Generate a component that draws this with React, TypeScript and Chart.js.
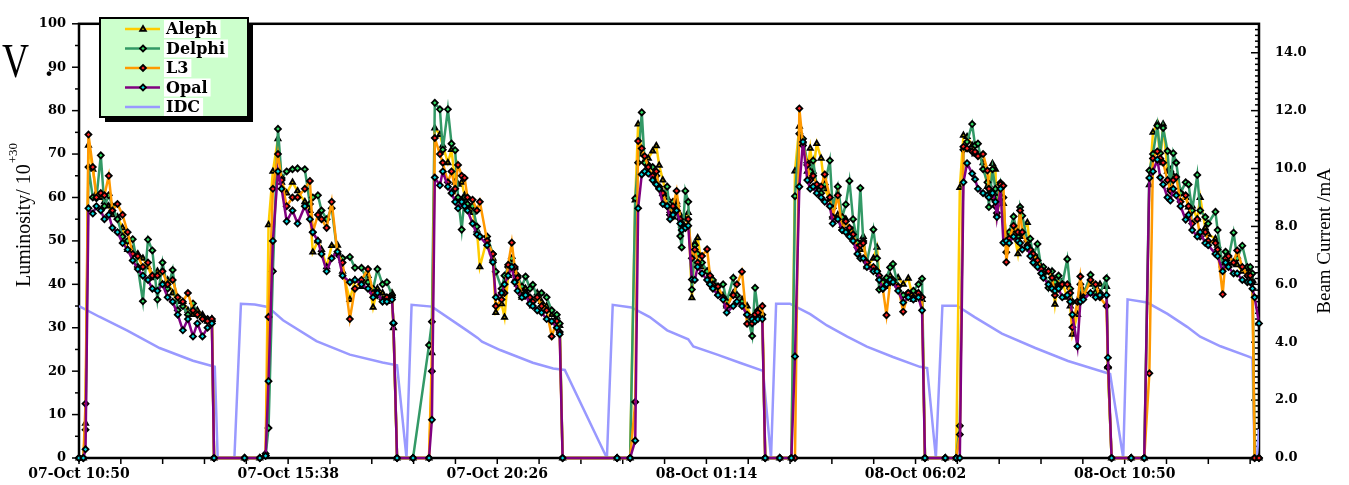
import React, { useEffect, useRef } from 'react';
import { Chart, registerables } from 'chart.js';

Chart.register(...registerables);

// x values are minutes after 07-Oct 10:50
const xTickMinutes = [0, 288, 576, 864, 1152, 1440];
const xTickLabels = ['07-Oct 10:50', '07-Oct 15:38', '07-Oct 20:26', '08-Oct 01:14', '08-Oct 06:02', '08-Oct 10:50'];
const xMax = 1625;
const xMinorStep = 57.6;
const yTickValues = [0, 10, 20, 30, 40, 50, 60, 70, 80, 90, 100];
const y1TickValues = [0, 2, 4, 6, 8, 10, 12, 14];

const seriesLabels = ['Aleph', 'Delphi', 'L3', 'Opal', 'IDC'];
const seriesColors = ['#ffcc00', '#339966', '#ff9900', '#800080', '#9999ff'];
const markerFills = ['#9a8800', '#33dd66', '#ff2222', '#00d8e0', ''];
const markerStyles = ['triangle', 'rectRot', 'rectRot', 'rectRot', ''];

const lumiTimes = [
  0, 6, 9, 13, 19, 24, 30, 35, 41, 46, 53, 60, 67, 74, 81, 88, 95, 101, 108, 115, 122, 129, 136, 143, 150, 157, 163, 170, 177, 183, 186,
  228, 249, 257, 261, 267, 274, 279, 286, 294, 301, 311, 318, 322, 329, 334, 341, 348, 356, 363, 373, 380, 389, 398, 405, 411, 418, 424, 431, 433, 438,
  460, 482, 486, 490, 497, 501, 508, 513, 518, 522, 527, 531, 535, 542, 548, 552, 562, 570, 574, 582, 586, 591, 596, 600, 604, 610, 615, 621, 625, 631, 637, 644, 651, 658, 662, 666,
  741, 759, 766, 770, 775, 779, 784, 790, 795, 799, 804, 810, 814, 818, 823, 828, 830, 835, 839, 844, 848, 852, 858, 865, 869, 873, 880, 887, 892, 901, 906, 913, 920, 927, 931, 935, 941, 945,
  965, 981, 986, 992, 997, 1003, 1007, 1011, 1016, 1022, 1027, 1034, 1038, 1045, 1051, 1056, 1061, 1066, 1072, 1076, 1080, 1085, 1094, 1099, 1102, 1107, 1112, 1117, 1121, 1128, 1135, 1142, 1149, 1156, 1161, 1165,
  1193, 1208, 1213, 1218, 1223, 1230, 1234, 1238, 1245, 1251, 1253, 1258, 1262, 1264, 1269, 1273, 1277, 1281, 1287, 1293, 1296, 1299, 1306, 1310, 1314, 1320, 1325, 1328, 1335, 1340, 1344, 1349, 1354, 1361, 1365, 1368, 1375, 1379, 1383, 1393, 1400, 1406, 1415, 1417, 1422,
  1449, 1467, 1474, 1479, 1485, 1489, 1493, 1499, 1503, 1507, 1511, 1517, 1524, 1528, 1533, 1540, 1544, 1551, 1555, 1565, 1568, 1575, 1579, 1583, 1590, 1595, 1602, 1609, 1613, 1616, 1619, 1625,
];

const alephLumi = [
  0, 0, 8, 72, 66.5, 61, 60, 59, 58, 56, 55.5, 53, 48, 48, 47, 46, 44, 41.5, 43, 40, 41, 38, 36, 36, 34, 33, 34, 33, 31.5, 32, 0,
  0, 0, 1, 53.7, 66, 73.5, 63.5, 61, 63.5, 61.5, 59, 57, 47.4, 50, 48, 44, 48.9, 49, 43, 36.5, 41, 39.5, 42, 34.7, 39, 38, 36, 38, 30, 0,
  0, 0, 24.2, 76, 74.5, 72, 68, 71, 63.5, 63, 63.5, 60.5, 58, 56.5, 52.5, 44, 50.5, 46, 33.5, 35.5, 32.4, 42, 45, 41, 40, 37, 39, 36, 35, 38, 36, 35, 33, 32.5, 30.5, 0,
  0, 0, 59.4, 76.9, 70, 68.5, 69, 70.7, 71.9, 67.4, 64, 60, 57, 55.5, 59, 56, 53.5, 55, 56.5, 36.9, 49.5, 50.7, 44, 43, 41.5, 41, 38, 37.5, 35, 38, 37.5, 36.5, 35, 31.5, 33, 33.5, 32.5, 0,
  0, 0, 66.1, 76.4, 73, 66, 71.3, 66, 72.4, 69, 62, 59.5, 55.5, 56, 53.5, 55, 52, 52.5, 50, 48, 51, 44, 46, 48.5, 41.5, 40.5, 39.5, 42, 40.5, 41.5, 40, 41.4, 36.5, 38, 36.5, 0,
  0, 0, 62.3, 74.3, 74, 72, 70, 70, 68, 62.5, 63, 67.8, 66.5, 56, 60, 58.6, 50, 51.5, 52.5, 47, 51, 52, 54.2, 48, 47, 46, 44, 43.5, 43, 42, 35.4, 41.5, 40.5, 37, 35, 28.5, 33, 37.5, 38.5, 40, 39.5, 40, 39.5, 21, 0,
  0, 0, 62.9, 75, 77.1, 68, 76.9, 66, 66.4, 65, 64.5, 61.5, 60, 57.8, 58, 55, 60, 53, 51.5, 50.5, 49, 44.5, 44, 44.5, 45, 44.5, 43, 43, 43, 41, 0, 0,
];

const delphiLumi = [
  0, 0, 6.5, 67, 60, 59.8, 69.7, 58, 60.5, 58, 55, 51, 50, 50.4, 44, 36.1, 50.3, 47.8, 36.5, 45, 39, 43.3, 34, 35, 33, 35.6, 33, 32.5, 32, 31.5, 0,
  0, 0, 0.5, 6.9, 43, 75.8, 64.5, 66, 66.5, 66.7, 66.5, 58.5, 60, 60.5, 57, 55, 57.5, 47, 46, 46.3, 43.8, 43.8, 40.5, 39, 43.5, 40, 40.5, 37.5, 31, 0,
  0, 26, 31.4, 81.8, 80.3, 71, 80.3, 72.4, 70.9, 60, 52.6, 60, 58.5, 58, 53.3, 51, 51, 47, 42.9, 39, 42, 44, 46, 43.5, 42, 39.5, 41.8, 39, 39.9, 37, 38, 37, 34, 33, 31, 0,
  0, 0, 59.8, 68, 79.6, 68, 67.5, 67, 65, 62.5, 60.5, 62.5, 56, 59, 58, 51.1, 48.5, 61.5, 59, 38.8, 49, 47, 45, 43, 40, 41, 39.5, 40, 36, 41.5, 37.5, 36, 33, 28.1, 39.2, 34, 33, 0,
  0, 0, 60.3, 74.7, 73.5, 68, 66, 68.5, 62.5, 61, 63, 68.5, 57.5, 62.5, 55.5, 58.4, 63.8, 55, 49.6, 62.2, 50, 45.1, 52.6, 46, 38.8, 40.5, 41.5, 43.9, 44.7, 39.5, 37.5, 38, 38.5, 40, 41.3, 0,
  0, 0, 7.4, 71, 72.8, 76.9, 72, 72.4, 66.5, 63.5, 57.8, 66.5, 62, 60, 63.4, 60, 47.4, 52, 55.6, 51, 57.8, 55.8, 50, 50.5, 46.5, 49.3, 44, 44, 39.2, 43, 40.5, 42, 40, 45.8, 39, 36, 36, 40, 37.5, 42.2, 38, 38, 41.4, 20.9, 0,
  0, 0, 66.2, 70, 76.5, 70.2, 76, 70.7, 62, 70.2, 68, 61, 63.5, 63, 57, 65.2, 57, 55.5, 54, 56.7, 52.5, 44, 47.5, 46, 51.9, 46, 48.9, 44, 44, 42.5, 0, 0,
];

const l3Lumi = [
  0, 0, 12.5, 74.5, 67, 60, 61, 60.5, 65, 57, 58.5, 56, 52, 47, 46.5, 44, 45, 42, 42, 43, 40, 41, 37, 36, 38, 34, 33, 32, 31.5, 32, 0,
  0, 0, 1, 32.5, 62, 70, 64, 58, 60, 60, 62, 63.8, 52, 56, 55, 53, 59, 47, 45, 32, 39, 41, 43.5, 38, 37.5, 36.5, 37, 37, 31, 0,
  0, 0, 20, 73.7, 70, 68, 63.5, 66, 62, 67.5, 65, 64.5, 60, 59.5, 57, 59, 50, 47, 35, 36.5, 38, 44.5, 49.6, 44, 41.5, 37.5, 38, 37, 36, 37, 35, 34, 28, 31.5, 29, 0,
  0, 0, 12.9, 73, 71.3, 69.5, 67, 65, 66, 62, 61, 58, 56, 58, 61.5, 55, 54, 53, 55, 46, 48, 45, 46.5, 48.1, 42, 40, 39.5, 37, 35, 37.5, 40, 42.9, 30.9, 31, 33, 33.5, 35, 0,
  0, 0, 0, 80.5, 72, 67.5, 64, 65, 63, 62.5, 65.3, 60, 55.5, 60.5, 52.5, 54.5, 53, 51.5, 48.5, 49, 49.5, 45, 44, 43, 42, 39, 32.9, 40.5, 41, 39.5, 33.7, 38, 37, 38, 37, 0,
  0, 0, 5.4, 71.7, 71.3, 70.6, 70.5, 69.5, 70, 66.2, 62, 60, 58, 56.4, 63, 62.7, 45.1, 50.5, 53.5, 52, 57, 52, 49, 48, 47, 45.5, 43.5, 42.5, 43, 41.5, 37.5, 39.5, 40, 40, 38, 30.1, 36, 41.8, 37, 41, 40, 37, 35, 20.9, 0,
  0, 0, 19.5, 69, 70.6, 69, 68, 64, 61.5, 64, 64.7, 59, 60.5, 58, 54, 55, 51, 52, 50, 49.5, 48, 37.7, 46, 46.5, 45, 47.8, 44, 42, 42, 40.5, 0, 0,
];

const opalLumi = [
  0, 0, 2, 57.5, 56.3, 58, 57, 55, 56, 53, 52, 49.5, 48, 45.5, 43.5, 42, 41, 39, 38.5, 40, 37, 36, 33, 29.4, 32, 28, 31, 28, 30, 31, 0,
  0, 0, 0.5, 17.7, 50, 66, 62, 54.5, 57, 54, 58, 55, 52, 50, 47, 43, 46, 47.5, 42, 40.5, 41, 40, 39, 37, 38, 36, 36, 36.5, 31.1, 0,
  0, 0, 8.8, 64.6, 62.8, 66, 62.5, 61, 59, 57.5, 59, 58, 57, 54, 51.5, 51, 49, 45.1, 37, 38, 40, 42, 44, 40.5, 38.5, 37, 37.5, 35.5, 35, 34, 33.5, 32, 31.5, 30, 28.5, 0,
  0, 0, 4, 57.5, 65.3, 66, 65.5, 64, 63, 62, 58.5, 58, 55, 56, 57, 54, 52.5, 53, 53.5, 41.1, 41, 44, 42.5, 41, 40, 39, 37.5, 36.5, 33.5, 35, 36, 35, 33, 32, 31.5, 32, 32, 0,
  0, 0, 23.4, 62.5, 72.8, 64, 62, 62.5, 61, 60, 59, 58, 54, 55, 52.5, 52, 51, 50, 47, 46, 46, 44, 43, 43, 41, 39, 40, 41, 40.5, 38.5, 35.8, 37, 36.5, 37, 34, 0,
  0, 0, 0, 63.5, 67.9, 65.5, 64.2, 62, 61, 60.5, 60, 61, 59, 55.5, 62, 49.6, 50, 49.5, 51, 50, 49.5, 48, 48.5, 46.5, 45, 44, 42.5, 41.5, 40, 39, 38.5, 39, 37, 37.5, 36, 33, 25.7, 36, 36.5, 38, 37, 37.5, 37.5, 23.1, 0,
  0, 0, 64.5, 66, 68.7, 64.6, 63, 60, 59.3, 62, 60.5, 58, 54.9, 56, 52.5, 51, 52, 49.5, 49, 47, 46.5, 43, 45, 44, 42.5, 42.5, 41, 40.5, 40.5, 39, 37, 31,
];

const idcTimes = [
  0, 28, 66, 111, 157, 187, 191, 214, 223, 242,
  260, 281, 327, 373, 418, 438, 451, 458, 486, 534,
  549, 555, 580, 625, 653, 669, 727, 735, 761, 786,
  810, 839, 846, 879, 910, 942, 953, 960, 979, 1007,
  1030, 1058, 1085, 1121, 1158, 1168, 1180, 1189, 1209, 1234,
  1271, 1317, 1362, 1420, 1438, 1444, 1471, 1499, 1526, 1544,
  1572, 1609, 1616, 1619, 1622, 1625,
];
const idcCurrent = [
  5.25, 4.88, 4.41, 3.80, 3.36, 3.15, 0, 0, 5.33, 5.30,
  5.22, 4.76, 4.04, 3.57, 3.30, 3.20, 0, 5.29, 5.23, 4.41,
  4.15, 4.02, 3.73, 3.29, 3.09, 3.04, 0, 5.29, 5.20, 4.87,
  4.41, 4.10, 3.85, 3.57, 3.29, 3.01, 0, 5.33, 5.33, 4.97,
  4.58, 4.19, 3.85, 3.49, 3.15, 3.11, 0, 5.26, 5.26, 4.86,
  4.30, 3.80, 3.35, 2.90, 0, 5.48, 5.37, 4.98, 4.53, 4.19,
  3.86, 3.52, 3.45, 0, 0, 1.0,
];

const TICK_FONT = "'DejaVu Serif'";
const TITLE_FONT = "'Liberation Serif'";

function drawMarker(ctx: CanvasRenderingContext2D, style: string, x: number, y: number, r: number, fill: string) {
  ctx.beginPath();
  if (style === 'triangle') {
    ctx.moveTo(x, y - r);
    ctx.lineTo(x + r * 0.95, y + r * 0.6);
    ctx.lineTo(x - r * 0.95, y + r * 0.6);
  } else {
    ctx.moveTo(x, y - r);
    ctx.lineTo(x + r, y);
    ctx.lineTo(x, y + r);
    ctx.lineTo(x - r, y);
  }
  ctx.closePath();
  ctx.fillStyle = fill;
  ctx.fill();
  ctx.lineWidth = 1.8;
  ctx.strokeStyle = '#000';
  ctx.stroke();
}

const framePlugin = {
  id: 'frameTicks',
  beforeDatasetsDraw(chart: any) {
    const { ctx, chartArea: a, scales } = chart;
    const line = (x1: number, y1: number, x2: number, y2: number) => {
      ctx.beginPath();
      ctx.moveTo(x1, y1);
      ctx.lineTo(x2, y2);
      ctx.stroke();
    };
    ctx.save();
    ctx.strokeStyle = '#000';
    ctx.lineWidth = 1.5;
    for (let v = 0; v <= 100; v += 5) {
      const py = scales.y.getPixelForValue(v);
      line(a.left - (v % 10 === 0 ? 7 : 4), py, a.left, py);
    }
    for (let i = 0; i <= 75; i++) {
      const py = scales.y1.getPixelForValue(i * 0.2);
      line(a.right - (i % 10 === 0 ? 8 : 4), py, a.right, py);
    }
    for (let i = 0; i * xMinorStep <= xMax; i++) {
      const px = scales.x.getPixelForValue(i * xMinorStep);
      line(px, a.bottom, px, a.bottom + 6);
    }
    ctx.lineWidth = 2.5;
    ctx.strokeRect(a.left, a.top, a.right - a.left, a.bottom - a.top);
    ctx.restore();
  },
};

const overlayPlugin = {
  id: 'overlay',
  afterDraw(chart: any) {
    const { ctx, chartArea: a } = chart;
    ctx.save();
    // axis titles
    ctx.fillStyle = '#000';
    ctx.font = `20px ${TITLE_FONT}`;
    ctx.textBaseline = 'middle';
    ctx.textAlign = 'left';
    ctx.save();
    ctx.translate(25, 287);
    ctx.rotate(-Math.PI / 2);
    const main = 'Luminosity/ 10';
    ctx.fillText(main, 0, 0);
    const w = ctx.measureText(main).width;
    ctx.font = `13px ${TITLE_FONT}`;
    ctx.fillText('+30', w + 1, -11);
    ctx.restore();

    ctx.save();
    ctx.font = `19px ${TITLE_FONT}`;
    ctx.translate(a.right + 66, (a.top + a.bottom) / 2);
    ctx.rotate(-Math.PI / 2);
    ctx.textAlign = 'center';
    ctx.fillText('Beam Current /mA', 0, 0);
    ctx.restore();

    // legend
    const bx = 100, by = 18, bw = 148, bh = 99;
    ctx.fillStyle = '#000';
    ctx.fillRect(bx + 5, by + 5, bw, bh);
    ctx.fillStyle = '#ccffcc';
    ctx.fillRect(bx, by, bw, bh);
    ctx.lineWidth = 2;
    ctx.strokeStyle = '#000';
    ctx.strokeRect(bx, by, bw, bh);
    ctx.font = `bold 16px ${TICK_FONT}`;
    ctx.textAlign = 'left';
    ctx.textBaseline = 'middle';
    seriesLabels.forEach((label, i) => {
      const ry = by + 11 + i * 19.5;
      ctx.strokeStyle = seriesColors[i];
      ctx.lineWidth = 2.5;
      ctx.beginPath();
      ctx.moveTo(bx + 25, ry);
      ctx.lineTo(bx + 60, ry);
      ctx.stroke();
      if (markerStyles[i]) drawMarker(ctx, markerStyles[i], bx + 43, ry, 3, markerFills[i]);
      const tw = ctx.measureText(label).width;
      ctx.fillStyle = '#fff';
      ctx.fillRect(bx + 64, ry - 9, tw + 5, 18);
      ctx.fillStyle = '#000';
      ctx.fillText(label, bx + 66, ry + 1);
    });
    ctx.restore();
  },
};

function lumiDataset(idx: number, values: number[], order: number) {
  return {
    label: seriesLabels[idx],
    data: lumiTimes.map((t, i) => ({ x: t, y: values[i] })),
    borderColor: seriesColors[idx],
    backgroundColor: seriesColors[idx],
    borderWidth: 2.5,
    pointStyle: markerStyles[idx],
    pointRadius: 3,
    pointBorderColor: '#000',
    pointBorderWidth: 1.8,
    pointBackgroundColor: markerFills[idx],
    yAxisID: 'y',
    order,
    clip: false,
    tension: 0,
  };
}

export default function App() {
  const ref = useRef<HTMLCanvasElement>(null);
  useEffect(() => {
    document.body.style.margin = '0';
    document.body.style.overflow = 'hidden';
    const chart = new Chart(ref.current as HTMLCanvasElement, {
      type: 'line',
      data: {
        datasets: [
          lumiDataset(0, alephLumi, 3),
          lumiDataset(1, delphiLumi, 2),
          lumiDataset(2, l3Lumi, 1),
          lumiDataset(3, opalLumi, 0),
          {
            label: seriesLabels[4],
            data: idcTimes.map((t, i) => ({ x: t, y: idcCurrent[i] })),
            borderColor: seriesColors[4],
            backgroundColor: seriesColors[4],
            borderWidth: 2.5,
            pointRadius: 0,
            yAxisID: 'y1',
            order: 4,
            tension: 0,
          },
        ],
      },
      options: {
        animation: false,
        responsive: false,
        maintainAspectRatio: false,
        events: [],
        layout: { padding: { top: 12, left: 0, right: 0, bottom: 0 } },
        plugins: { legend: { display: false }, tooltip: { enabled: false } },
        scales: {
          x: {
            type: 'linear',
            min: 0,
            max: xMax,
            afterBuildTicks: (s: any) => { s.ticks = xTickMinutes.map((v) => ({ value: v })); },
            afterFit: (s: any) => { s.height = 27; },
            ticks: {
              autoSkip: false,
              maxRotation: 0,
              padding: 8,
              color: '#000',
              font: { family: TICK_FONT, weight: 'bold', size: 14 },
              callback: (_v: any, i: number) => xTickLabels[i],
            },
            grid: { display: false, drawTicks: false },
            border: { display: false },
          },
          y: {
            position: 'left',
            min: 0,
            max: 100,
            afterBuildTicks: (s: any) => { s.ticks = yTickValues.map((v) => ({ value: v })); },
            afterFit: (s: any) => { s.width = 79; },
            ticks: {
              padding: 13,
              color: '#000',
              font: { family: TICK_FONT, weight: 'bold', size: 13 },
              callback: (v: any) => String(v),
            },
            grid: { display: false, drawTicks: false },
            border: { display: false },
          },
          y1: {
            position: 'right',
            min: 0,
            max: 15,
            afterBuildTicks: (s: any) => { s.ticks = y1TickValues.map((v) => ({ value: v })); },
            afterFit: (s: any) => { s.width = 90; },
            ticks: {
              padding: 16,
              color: '#000',
              font: { family: TICK_FONT, weight: 'bold', size: 13 },
              callback: (v: any) => Number(v).toFixed(1),
            },
            grid: { display: false, drawTicks: false },
            border: { display: false },
          },
        },
      } as any,
      plugins: [framePlugin, overlayPlugin],
    } as any);
    return () => chart.destroy();
  }, []);

  return (
    <div style={{ position: 'absolute', left: 0, top: 0, width: 1349, height: 485, background: '#fff', overflow: 'hidden' }}>
      <canvas ref={ref} width={1349} height={485} style={{ display: 'block', width: 1349, height: 485 }} />
      <div
        style={{
          position: 'absolute', left: 2, top: 37, fontFamily: "'Liberation Serif'", fontSize: 48,
          lineHeight: '48px', transform: 'scaleX(0.78)', transformOrigin: 'left top', color: '#000',
        }}
      >
        V
      </div>
      <div
        style={{
          position: 'absolute', left: 44, top: 43, fontFamily: "'Liberation Serif'", fontSize: 40,
          lineHeight: '40px', color: '#000',
        }}
      >
        .
      </div>
    </div>
  );
}
